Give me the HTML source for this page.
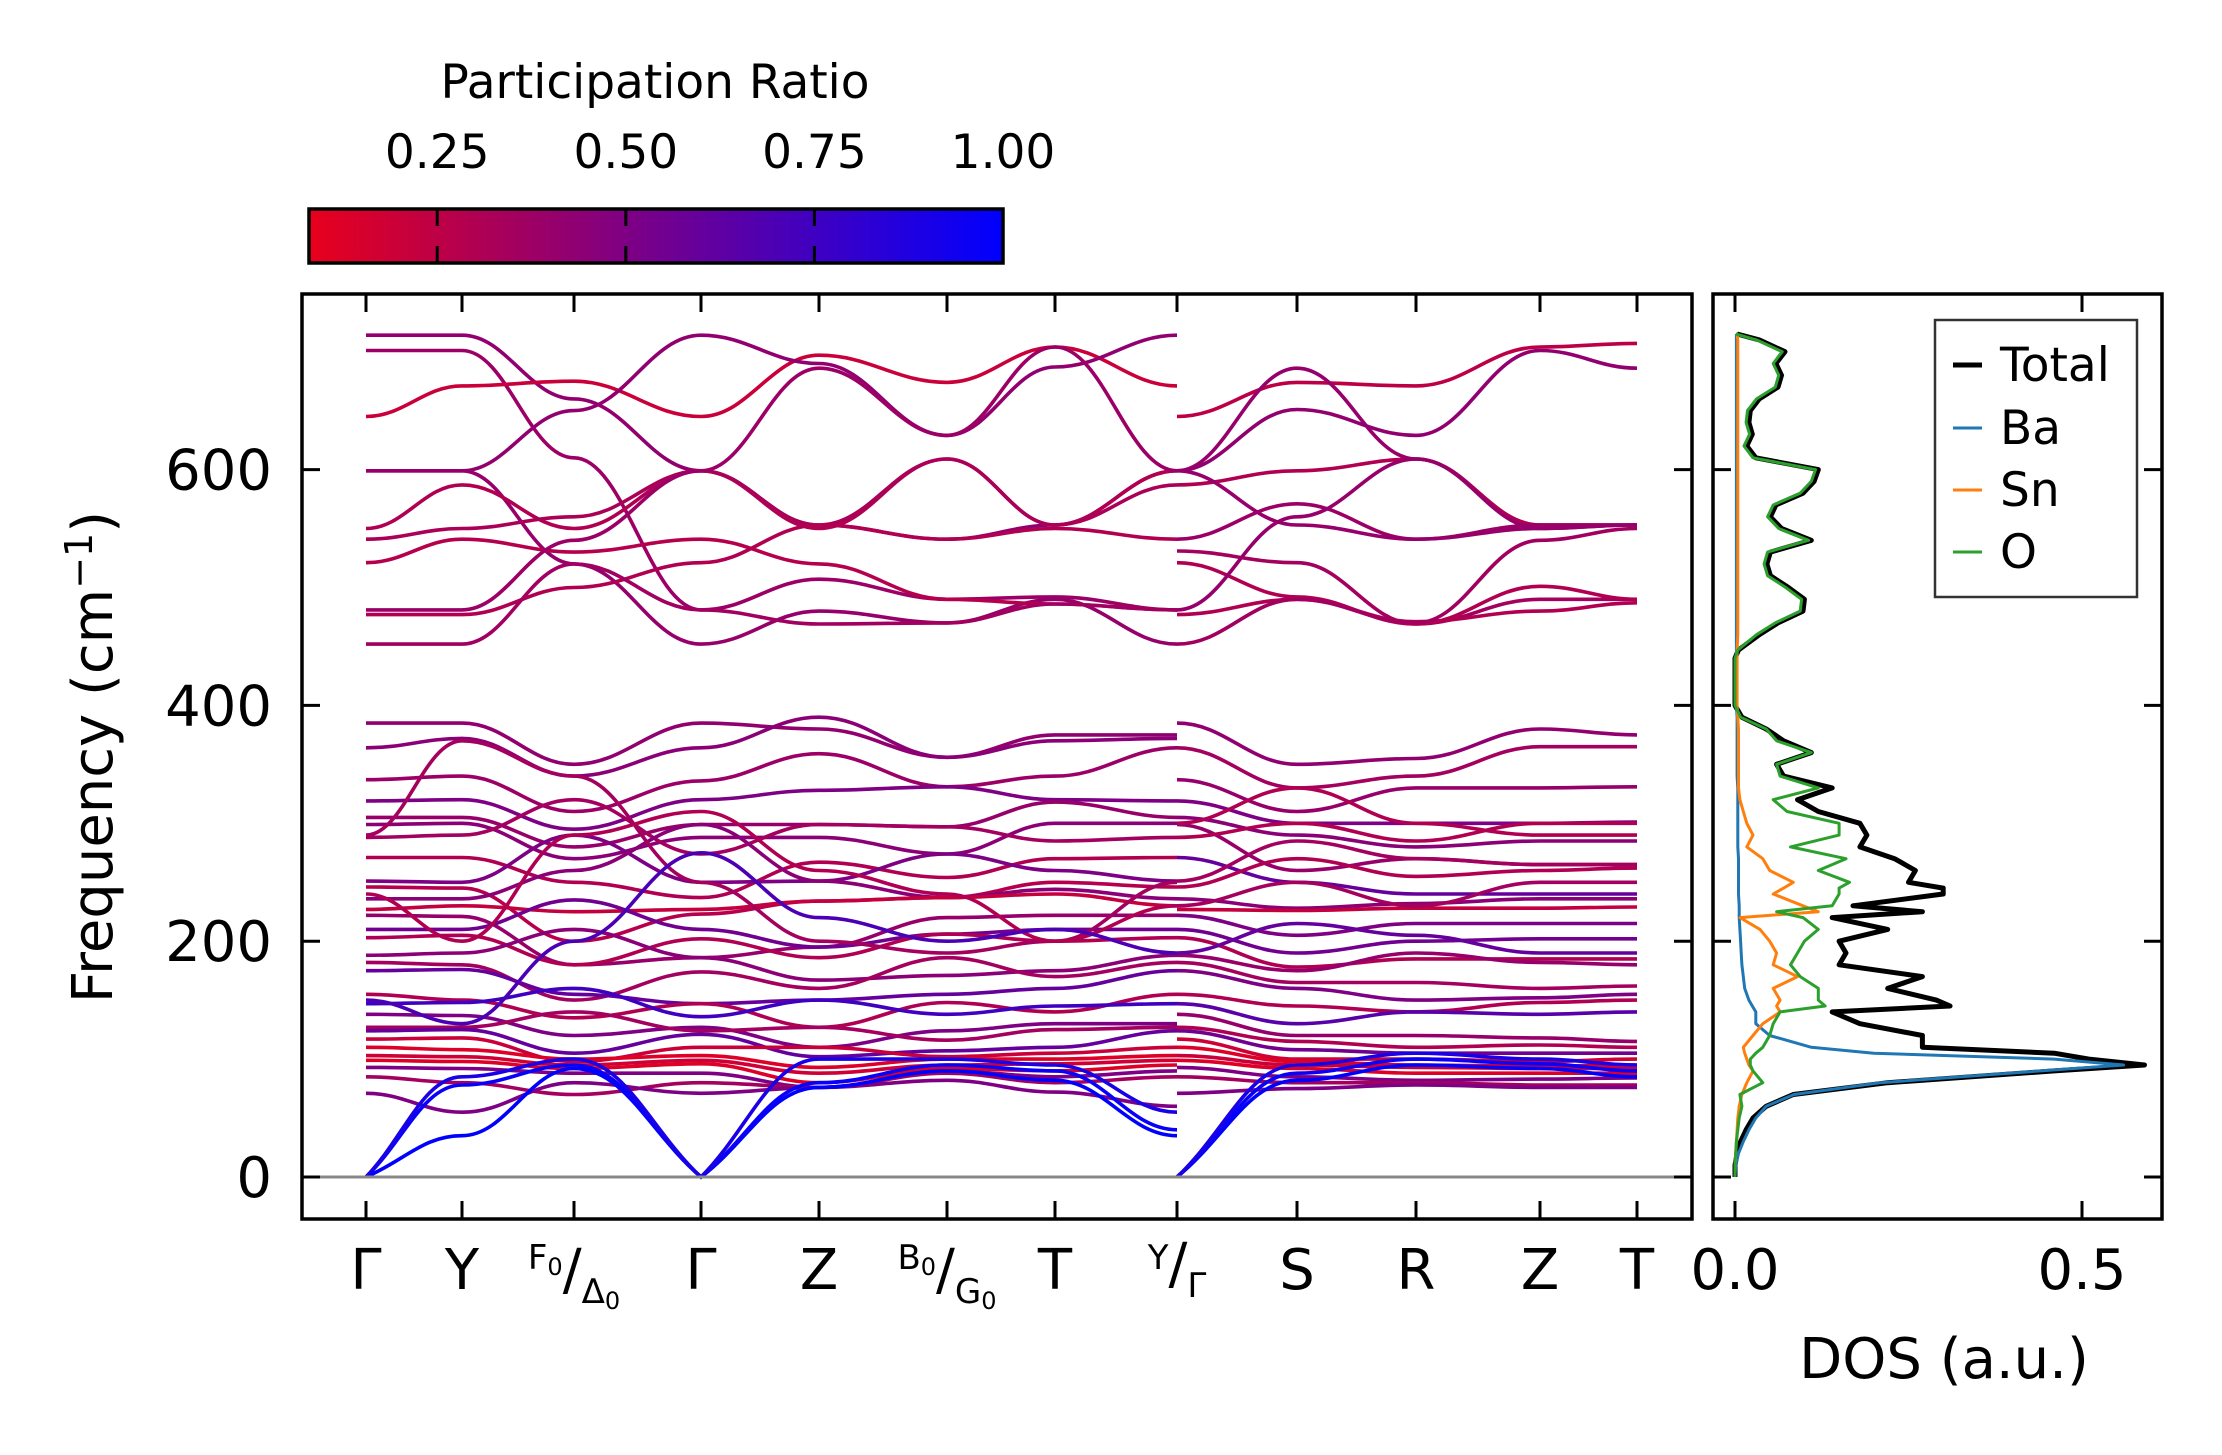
<!DOCTYPE html>
<html><head><meta charset="utf-8"><style>
html,body{margin:0;padding:0;background:#fff;}
svg{display:block;font-family:"DejaVu Sans","Liberation Sans",sans-serif;}
</style></head><body>
<svg id="fig" width="2222" height="1455" viewBox="0 0 2222 1455" xmlns="http://www.w3.org/2000/svg">
<defs>
<linearGradient id="cbgrad" x1="0" x2="1" y1="0" y2="0">
<stop offset="0" stop-color="rgb(232,0,28)"/><stop offset="1" stop-color="rgb(0,0,255)"/>
</linearGradient>
<clipPath id="mainclip"><rect x="302" y="294" width="1390" height="925"/></clipPath>
<clipPath id="dosclip"><rect x="1713" y="294" width="449" height="925"/></clipPath>
</defs>
<g id="colorbar">
<text x="655" y="98" font-size="47" text-anchor="middle">Participation Ratio</text>
<rect x="309" y="209" width="694" height="54" fill="url(#cbgrad)" stroke="#000" stroke-width="3.5"/>
</g>
<g id="bands" clip-path="url(#mainclip)"></g>
<g id="dos" clip-path="url(#dosclip)"></g>
<g id="axes"></g>
<g id="legend">
<rect x="1935" y="320" width="202" height="277" fill="#fff" stroke="#333" stroke-width="2.5"/>
<line x1="1953" x2="1982" y1="365" y2="365" stroke="#000" stroke-width="5"/>
<text x="2000" y="381" font-size="47">Total</text>
<line x1="1953" x2="1982" y1="428" y2="428" stroke="#1f77b4" stroke-width="3"/>
<text x="2000" y="444" font-size="47">Ba</text>
<line x1="1953" x2="1982" y1="490" y2="490" stroke="#ff7f0e" stroke-width="3"/>
<text x="2000" y="506" font-size="47">Sn</text>
<line x1="1953" x2="1982" y1="552" y2="552" stroke="#2ca02c" stroke-width="3"/>
<text x="2000" y="568" font-size="47">O</text>
</g>
</svg>
<script>
const kDist = [0,96,208,335,453,581,689,811,931,1050,1174,1271];
const kLabels = ["Γ","Y","F0/Δ0","Γ","Z","B0/G0","T","Y/Γ","S","R","Z","T"];
const freqTicks = [0,200,400,600];
const cbTicks = [0.25,0.50,0.75,1.00];
const dosTicks = [0.0,0.5];
const path1Bands = [
[714,714,660,599,553,541,553,599],
[701,701,610,481,507,490,492,481],
[645,671,675,645,697,674,704,671],
[599,599,650,714,690,629,687,714],
[599,599,520,452,480,470,490,452],
[550,587,550,599,550,609,553,599],
[541,550,560,599,553,609,553,587],
[521,541,530,541,520,490,486,481],
[481,481,540,599,686,629,704,599],
[477,477,500,521,553,541,550,541],
[452,452,520,481,469,470,486,481],
[385,385,350,385,380,356,375,375],
[364,372,340,364,390,356,370,372],
[337,340,310,336,359,331,340,364],
[319,320,295,320,328,331,320,319],
[305,305,280,299,299,297,318,305],
[299,300,270,288,288,274,300,300],
[288,290,320,274,299,297,285,288],
[271,271,250,237,267,254,270,271],
[251,250,290,250,251,274,260,251],
[246,245,200,223,234,237,250,246],
[236,236,260,299,251,237,244,236],
[227,230,225,227,234,237,240,230],
[222,221,180,186,195,220,222,222],
[210,210,235,210,195,206,210,210],
[203,205,180,202,186,206,200,203],
[188,190,210,186,167,171,175,188],
[182,180,150,174,160,186,170,182],
[175,176,155,147,150,155,160,175],
[155,150,135,147,127,148,140,155],
[147,148,160,136,150,138,145,147],
[138,137,120,127,110,124,130,130],
[127,127,140,124,127,116,125,127],
[124,125,105,121,102,107,110,124],
[117,118,98,110,110,102,105,110],
[110,108,100,103,93,100,100,103],
[103,102,95,99,88,95,96,99],
[99,98,92,96,80,92,90,95],
[93,92,88,88,76,90,85,90],
[85,80,70,80,76,88,80,85],
[71,55,80,71,76,82,72,60],
[290,370,340,250,200,190,200,250],
[240,200,290,310,260,240,200,230],
[150,130,200,275,220,200,210,190],
[0,35,92,0,76,90,82,35],
[0,78,95,0,80,95,90,40],
[0,85,100,0,100,100,95,55]
];
const path1Ratio = [0.42,0.38,0.2,0.42,0.4,0.3,0.32,0.28,0.38,0.3,0.36,
0.42,0.45,0.38,0.5,0.4,0.45,0.35,0.3,0.5,0.28,0.45,0.22,0.4,0.55,0.3,0.45,0.35,0.6,0.3,0.75,0.5,0.35,0.6,0.2,0.12,0.18,0.12,0.5,0.35,0.5,
0.35,0.3,0.7,1.0,0.97,0.9];
const path2Bands = [
[645,674,671,704,707],
[599,686,609,553,553],
[599,651,629,701,686],
[587,599,609,553,553],
[541,571,541,553,553],
[531,521,469,490,490],
[521,492,469,501,490],
[481,560,609,550,553],
[477,490,471,480,487],
[452,490,470,540,550],
[599,553,541,550,553],
[385,350,355,380,375],
[364,330,340,365,365],
[337,310,330,330,331],
[319,300,300,300,301],
[305,290,280,285,285],
[299,260,270,265,265],
[288,300,285,300,300],
[271,250,240,240,240],
[251,285,270,265,265],
[246,270,255,260,262],
[236,228,232,236,236],
[227,226,228,228,229],
[222,205,215,215,215],
[210,190,200,202,202],
[203,178,185,185,185],
[188,175,190,182,180],
[182,165,165,160,162],
[175,160,150,152,155],
[155,145,140,148,150],
[147,130,140,138,140],
[138,120,120,118,115],
[127,115,110,112,110],
[124,108,105,105,105],
[117,100,100,98,100],
[110,98,95,94,95],
[103,95,93,92,92],
[99,92,88,88,88],
[93,85,82,83,84],
[85,80,80,78,78],
[71,75,78,76,76],
[300,330,300,290,290],
[230,250,230,250,250],
[190,215,205,190,190],
[0,82,95,92,85],
[0,88,100,96,90],
[0,95,105,100,95]
];
const path2Ratio = [0.25,0.4,0.42,0.3,0.38,0.35,0.3,0.4,0.3,0.36,0.4,
0.42,0.35,0.4,0.5,0.45,0.4,0.3,0.6,0.35,0.3,0.45,0.22,0.5,0.55,0.3,0.4,0.35,0.5,0.3,0.65,0.4,0.3,0.55,0.18,0.12,0.2,0.12,0.5,0.35,0.5,
0.3,0.35,0.6,1.0,0.97,0.9];
const dosFreq = [0,10,20,30,40,50,60,70,80,90,95,100,105,110,120,130,140,145,150,160,170,180,190,200,210,220,225,230,240,245,250,260,270,280,290,300,310,320,330,340,350,360,370,380,390,400,440,447,460,470,480,490,500,510,520,530,540,550,560,570,580,590,600,610,620,630,640,650,660,670,680,690,700,710,715];
const dosTotal = [0,0,.003,.008,.016,.026,.045,.084,.22,.46,.59,.51,.46,.27,.27,.18,.14,.31,.29,.22,.27,.15,.16,.15,.22,.14,.27,.17,.30,.30,.25,.26,.23,.18,.19,.18,.12,.09,.14,.07,.06,.11,.07,.045,.01,0,0,.005,.035,.062,.098,.10,.077,.051,.046,.051,.11,.067,.051,.059,.098,.114,.12,.03,.017,.025,.02,.022,.035,.062,.067,.059,.072,.035,.003];
const dosBa = [0,.001,.005,.012,.02,.03,.045,.085,.21,.44,.56,.46,.2,.11,.05,.03,.03,.025,.02,.014,.012,.01,.009,.008,.007,.006,.006,.006,.005,.005,.005,.005,.005,.004,.004,.004,.004,.004,.004,.003,.003,.003,.003,.003,.003,.002,.002,.002,.002,.002,.002,.002,.002,.002,.002,.002,.002,.002,.002,.002,.002,.002,.002,.002,.002,.002,.002,.002,.002,.002,.002,.002,.002,.002,.002];
const dosSn = [0,0,.001,.002,.003,.004,.006,.01,.017,.026,.02,.017,.014,.012,.026,.04,.065,.06,.065,.055,.09,.055,.06,.05,.036,.007,.12,.098,.055,.07,.084,.05,.04,.017,.026,.017,.012,.007,.005,.005,.005,.005,.005,.005,.004,.003,.003,.003,.004,.004,.004,.004,.004,.004,.004,.004,.004,.004,.004,.004,.004,.004,.004,.004,.004,.004,.004,.004,.004,.004,.004,.004,.004,.004,.003];
const dosO = [0,0,.001,.002,.004,.006,.01,.007,.04,.026,.022,.022,.03,.04,.05,.055,.065,.13,.12,.12,.094,.08,.09,.10,.12,.098,.06,.14,.15,.15,.165,.12,.16,.08,.15,.15,.075,.055,.12,.065,.06,.11,.06,.045,.008,0,0,.004,.031,.058,.094,.096,.073,.047,.042,.047,.106,.063,.047,.055,.094,.11,.116,.026,.013,.021,.016,.018,.031,.058,.063,.055,.068,.031,.001];

const NS="http://www.w3.org/2000/svg";
const X0=366, X1=1637, AX_L=302, AX_R=1692, AX_T=294, AX_B=1219;
const kMax = kDist[kDist.length-1];
const xK = d => X0 + d*(X1-X0)/kMax;
const yF = f => 1177 - f*1.179;
const DX0=1735, DX_PER=694, DAX_L=1713, DAX_R=2162;
const xD = v => DX0 + v*DX_PER;
const VMIN=0.08, VMAX=1.0, CB_L=309, CB_R=1003;
const xCB = v => CB_L + (v-VMIN)/(VMAX-VMIN)*(CB_R-CB_L);
function colorOf(r){const t=Math.max(0,Math.min(1,(r-VMIN)/(VMAX-VMIN)));return `rgb(${Math.round(232*(1-t))},0,${Math.round(28+227*t)})`;}
function el(tag, attrs, parent){const e=document.createElementNS(NS,tag);for(const k in attrs)e.setAttribute(k,attrs[k]);parent.appendChild(e);return e;}

const gB=document.getElementById('bands');
function bandPath(vals, kIdx){
  let d='';
  for(let i=0;i<vals.length;i++){
    const x=xK(kDist[kIdx[i]]), y=yF(vals[i]);
    if(i===0){d+=`M${x.toFixed(1)},${y.toFixed(1)}`;continue;}
    const xp=xK(kDist[kIdx[i-1]]), yp=yF(vals[i-1]), dx=x-xp;
    const c1y = vals[i-1]===0 ? yp+(y-yp)*0.4 : yp;
    const c2y = vals[i]===0 ? y+(yp-y)*0.4 : y;
    d+=`C${(xp+dx*0.4).toFixed(1)},${c1y.toFixed(1)} ${(x-dx*0.4).toFixed(1)},${c2y.toFixed(1)} ${x.toFixed(1)},${y.toFixed(1)}`;
  }
  return d;
}
const idx1=[0,1,2,3,4,5,6,7], idx2=[7,8,9,10,11];
path1Bands.forEach((b,i)=>{
  const p=el('path',{d:bandPath(b,idx1),fill:'none',stroke:colorOf(path1Ratio[i]),'stroke-width':3.6},gB);
  
  
});
path2Bands.forEach((b,i)=>{
  const p=el('path',{d:bandPath(b,idx2),fill:'none',stroke:colorOf(path2Ratio[i]),'stroke-width':3.6},gB);
  
  
});
const zl=el('line',{x1:AX_L,x2:AX_R,y1:yF(0),y2:yF(0),stroke:'#888','stroke-width':3},gB);



const gD=document.getElementById('dos');
function dosLine(vals,color,w,name){
  const d=vals.map((v,i)=>(i?'L':'M')+xD(v).toFixed(1)+','+yF(dosFreq[i]).toFixed(1)).join('');
  const p=el('path',{d:d,fill:'none',stroke:color,'stroke-width':w,'stroke-linejoin':'round'},gD);
  
  
}
dosLine(dosTotal,'#000',5,'dos-total-line');
dosLine(dosBa,'#1f77b4',3,'dos-ba-line');
dosLine(dosSn,'#ff7f0e',3,'dos-sn-line');
dosLine(dosO,'#2ca02c',3,'dos-o-line');

const gA=document.getElementById('axes');
const TL=18, TW=3;
const f1=el('rect',{x:AX_L,y:AX_T,width:AX_R-AX_L,height:AX_B-AX_T,fill:'none',stroke:'#000','stroke-width':3.5},gA);


const f2=el('rect',{x:DAX_L,y:AX_T,width:DAX_R-DAX_L,height:AX_B-AX_T,fill:'none',stroke:'#000','stroke-width':3.5},gA);


freqTicks.forEach(f=>{
  const y=yF(f);
  [[AX_L,AX_L+TL],[AX_R-TL,AX_R],[DAX_L,DAX_L+TL],[DAX_R-TL,DAX_R]].forEach(s=>{
    const t=el('line',{x1:s[0],x2:s[1],y1:y,y2:y,stroke:'#000','stroke-width':TW},gA);
    
    
  });
  const lb=el('text',{x:272,y:y+20,'font-size':56,'text-anchor':'end'},gA);
  lb.textContent=String(f);
  
  
});
kDist.forEach((k,i)=>{
  const x=xK(k);
  [[AX_B-TL,AX_B],[AX_T,AX_T+TL]].forEach(s=>{
    const t=el('line',{x1:x,x2:x,y1:s[0],y2:s[1],stroke:'#000','stroke-width':TW},gA);
    
    
  });
  const lab=kLabels[i];
  const tx=el('text',{x:x,y:1289,'font-size':56,'text-anchor':'middle'},gA);
  
  
  if(lab.indexOf('/')<0){tx.textContent=lab;}
  else{
    const parts=lab.split('/');
    const a=parts[0], b=parts[1];
    const s1=el('tspan',{'font-size':34,dy:-20},tx); s1.textContent=a[0];
    if(a.length>1){const s1b=el('tspan',{'font-size':24,dy:6},tx); s1b.textContent=a.slice(1);} else {el('tspan',{dy:6},tx);}
    const s2=el('tspan',{'font-size':56,dy:14},tx); s2.textContent='/';
    const s3=el('tspan',{'font-size':34,dy:14},tx); s3.textContent=b[0];
    if(b.length>1){const s3b=el('tspan',{'font-size':24,dy:6},tx); s3b.textContent=b.slice(1);}
  }
});
dosTicks.forEach(v=>{
  const x=xD(v);
  [[AX_B-TL,AX_B],[AX_T,AX_T+TL]].forEach(s=>{
    const t=el('line',{x1:x,x2:x,y1:s[0],y2:s[1],stroke:'#000','stroke-width':TW},gA);
    
    
  });
  const lb=el('text',{x:x,y:1289,'font-size':56,'text-anchor':'middle'},gA);
  lb.textContent=v.toFixed(1);
  
  
});
const yl=el('text',{x:0,y:0,'font-size':56,'text-anchor':'middle',transform:'translate(112,757) rotate(-90)'},gA);


yl.textContent='Frequency (cm';
const sup=el('tspan',{'font-size':38,dy:-20},yl); sup.textContent='−1';
const cl=el('tspan',{dy:20},yl); cl.textContent=')';
const xl=el('text',{x:1944,y:1378,'font-size':56,'text-anchor':'middle'},gA);


xl.textContent='DOS (a.u.)';

const gC=document.getElementById('colorbar');
cbTicks.forEach(v=>{
  const x=xCB(v);
  if(v<1){
    [[209,226],[246,263]].forEach(s=>{
      const t=el('line',{x1:x,x2:x,y1:s[0],y2:s[1],stroke:'#000','stroke-width':3},gC);
      
      
    });
  }
  const lb=el('text',{x:x,y:168,'font-size':47,'text-anchor':'middle'},gC);
  lb.textContent=v.toFixed(2);
  
  
});
</script>
</body></html>
